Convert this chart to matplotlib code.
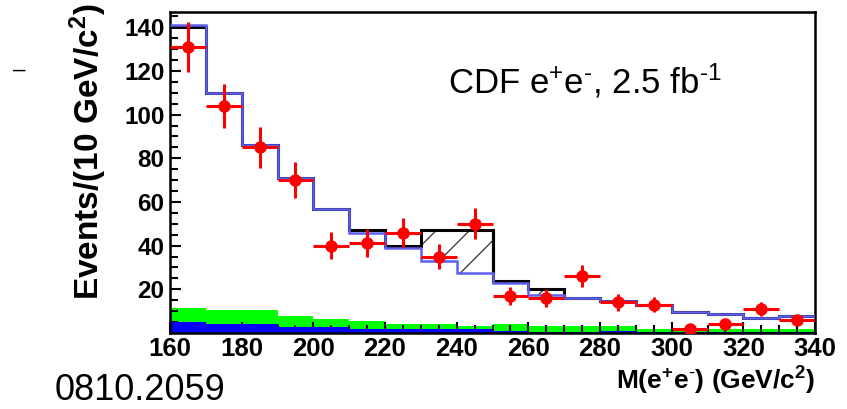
import numpy as np
import matplotlib
matplotlib.use("Agg")
from matplotlib import pyplot as plt

plt.rcParams['font.family'] = ['Liberation Sans', 'DejaVu Sans']
plt.rcParams['mathtext.fontset'] = 'custom'
plt.rcParams['mathtext.rm'] = 'Liberation Sans'
plt.rcParams['mathtext.default'] = 'regular'

# bin edges in GeV/c^2 (10 GeV bins)
mass_edges = [160, 170, 180, 190, 200, 210, 220, 230, 240, 250,
              260, 270, 280, 290, 300, 310, 320, 330, 340]

# observed events per bin
data_counts = [131, 104, 85, 70, 40, 41, 46, 35, 50,
               17, 16, 26, 14, 13, 2, 4, 11, 6]

# expected background (blue line)
bkg_total = [141, 110, 86, 71, 57, 46, 39, 33, 27.5,
             23, 17.5, 16, 14.5, 12.8, 9.7, 8.5, 7, 7.8]

# background + signal (black line)
mc_total = [140, 110, 86, 71, 57, 47, 40, 47, 47,
            24, 20, 16, 14.5, 12.8, 9.7, 8.5, 7, 7.8]

# stacked small backgrounds (green on top of blue)
green_top = [11.6, 10.5, 10.5, 7.8, 6.6, 5.5, 4.3, 4.3, 3.2,
             4.3, 3.2, 3.2, 3.2, 2.0, 2.0, 2.0, 2.0, 2.0]
blue_top = [5.2, 4.3, 4.3, 2.9, 2.9, 1.7, 1.7, 1.7, 1.7,
            0.9, 0.3, 0.3, 0.9, 0.3, 0.3, 0.3, 0.3, 0.3]

x_ticks = [160, 180, 200, 220, 240, 260, 280, 300, 320, 340]
y_ticks = [20, 40, 60, 80, 100, 120, 140]

edges = np.array(mass_edges)
centers = (edges[:-1] + edges[1:]) / 2
widths = np.diff(edges)
signal = np.array(mc_total) - np.array(bkg_total)

fig = plt.figure(figsize=(8.47, 4.09), dpi=100)
ax = fig.add_axes([170 / 847, 1 - 333 / 409, 645 / 847, 321 / 409])

# filled backgrounds
ax.stairs(green_top, edges, fill=True, color='#00ff00', zorder=1)
ax.stairs(blue_top, edges, fill=True, color='#0000ff', zorder=2)

# hatched signal between background and total
ax.bar(centers, np.clip(signal, 0, None), bottom=bkg_total, width=widths,
       fill=False, hatch='/', edgecolor='#444444', linewidth=0, zorder=3)

# total and background lines
ax.stairs(mc_total, edges, color='black', linewidth=2.2, zorder=4,
          baseline=None)
ax.plot([edges[-10], edges[-10]], [bkg_total[8], mc_total[8]], color='black',
        linewidth=2.2, zorder=4)
ax.stairs(bkg_total, edges, color='#5f5ff0', linewidth=1.8, zorder=5,
          baseline=None)

# data points with poisson errors
ax.errorbar(centers, data_counts, xerr=widths / 2, yerr=np.sqrt(data_counts),
            fmt='o', color='#ff0000', markersize=8, elinewidth=2.2,
            capsize=0, zorder=6)

ax.set_xlim(160, 340)
ax.set_ylim(0, 147)
ax.set_xticks(x_ticks)
ax.set_xticks(np.arange(160, 341, 5), minor=True)
ax.set_yticks(y_ticks)
ax.set_yticks(np.arange(5, 146, 5), minor=True)
ax.tick_params(which='both', direction='in', width=1.5, top=False, right=False)
ax.tick_params(which='major', length=8)
ax.tick_params(which='minor', length=6)
ax.tick_params(axis='x', labelsize=18.5, pad=3)
ax.tick_params(axis='y', labelsize=17.5, pad=4)
for lab in ax.get_xticklabels() + ax.get_yticklabels():
    lab.set_fontweight('bold')
for spine in ax.spines.values():
    spine.set_linewidth(1.8)

fig.text(88 / 847, 1 - 152 / 409, r'Events/(10 GeV/c$^{2}$)', rotation=90,
         ha='center', va='center', fontsize=24, fontweight='bold',
         family=['Liberation Sans Narrow', 'Liberation Sans'])
fig.text(815 / 847, 1 - 390 / 409, r'M(e$^{+}$e$^{\text{-}}$) (GeV/c$^{2}$)',
         ha='right', va='baseline', fontsize=19, fontweight='bold')
fig.text(448 / 847, 1 - 93 / 409,
         r'CDF e$^{+}$e$^{\text{-}}$, 2.5 fb$^{\text{-}1}$',
         ha='left', va='baseline', fontsize=25)
fig.text(55 / 847, 1 - 400 / 409, '0810.2059', ha='left', va='baseline',
         fontsize=26)
fig.text(19 / 847, 1 - 70 / 409, '\u2013', ha='center', va='center',
         fontsize=16)

fig.savefig('out.png', dpi=100)
